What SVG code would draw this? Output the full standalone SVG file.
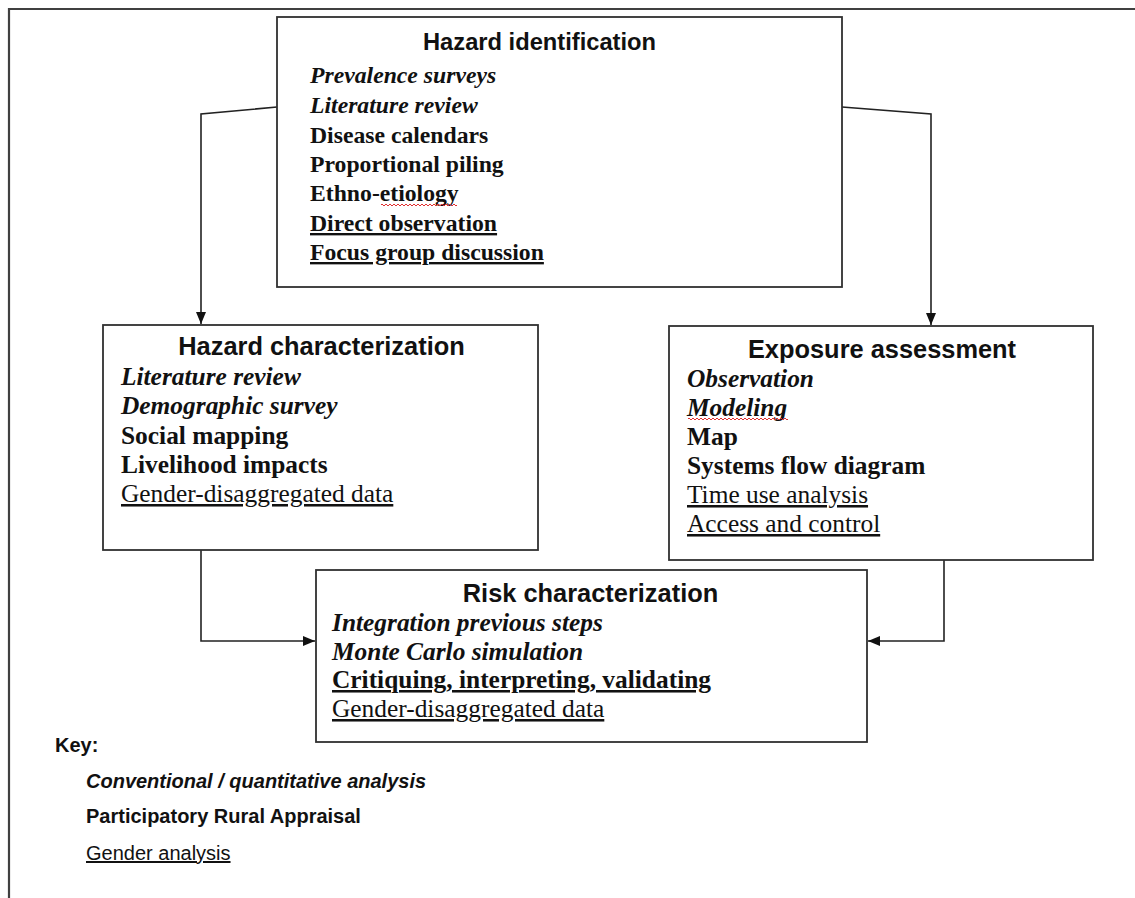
<svg xmlns="http://www.w3.org/2000/svg" width="1135" height="898" viewBox="0 0 1135 898">
<style>
.box{fill:#fff;stroke:#303030;stroke-width:1.8}
.frame{fill:none;stroke:#404040;stroke-width:2.2}
.conn{fill:none;stroke:#222;stroke-width:1.6}
.title{font-family:"Liberation Sans",Arial,sans-serif;font-weight:bold;fill:#111;text-anchor:middle}
.item{font-family:"Liberation Serif","Times New Roman",serif;fill:#111}
.b{font-weight:bold}
.i{font-style:italic}
.u{text-decoration:underline}
.key{font-family:"Liberation Sans",Arial,sans-serif;fill:#111;font-size:20px}
.sq{fill:none;stroke:#e03030;stroke-width:1}
</style>
<defs>
<marker id="arr" viewBox="0 0 12 10" refX="12" refY="5" markerWidth="12" markerHeight="10" markerUnits="userSpaceOnUse" orient="auto">
<path d="M0,0 L12,5 L0,10 Z" fill="#111"/>
</marker>
</defs>
<rect width="1135" height="898" fill="#fff"/>
<path class="frame" d="M9,898 V9 H1135"/>

<g id="connectors">
<path class="conn" d="M277,107 L201,114 V324" marker-end="url(#arr)"/>
<path class="conn" d="M842,107 L931,114 V325" marker-end="url(#arr)"/>
<path class="conn" d="M201,550 V641 H315" marker-end="url(#arr)"/>
<path class="conn" d="M944,560 V641 H868" marker-end="url(#arr)"/>
</g>

<g id="hazard-identification">
<rect class="box" x="277" y="17" width="565" height="270"/>
<text class="title" x="539.5" y="50" font-size="23.7">Hazard identification</text>
<g class="item" font-size="23.7">
<text class="b i" x="310" y="83">Prevalence surveys</text>
<text class="b i" x="310" y="113">Literature review</text>
<text class="b" x="310" y="143">Disease calendars</text>
<text class="b" x="310" y="172">Proportional piling</text>
<text class="b" x="310" y="201">Ethno-etiology</text>
<text class="b u" x="310" y="231">Direct observation</text>
<text class="b u" x="310" y="260">Focus group discussion</text>
</g>
<path class="sq" d="M381,205 q1,-2 2,0 t2,0 t2,0 t2,0 t2,0 t2,0 t2,0 t2,0 t2,0 t2,0 t2,0 t2,0 t2,0 t2,0 t2,0 t2,0 t2,0 t2,0 t2,0 t2,0 t2,0 t2,0 t2,0 t2,0 t2,0 t2,0 t2,0 t2,0 t2,0 t2,0 t2,0 t2,0 t2,0 t2,0 t2,0 t2,0 t2,0 t2,0"/>
</g>

<g id="hazard-characterization">
<rect class="box" x="103" y="325" width="435" height="225"/>
<text class="title" x="321.5" y="355" font-size="25.4">Hazard characterization</text>
<g class="item" font-size="25.4">
<text class="b i" x="121" y="385">Literature review</text>
<text class="b i" x="121" y="414">Demographic survey</text>
<text class="b" x="121" y="443.5">Social mapping</text>
<text class="b" x="121" y="473">Livelihood impacts</text>
<text class="u" x="121" y="502">Gender-disaggregated data</text>
</g>
</g>

<g id="exposure-assessment">
<rect class="box" x="669" y="326" width="424" height="234"/>
<text class="title" x="882" y="358" font-size="25.4">Exposure assessment</text>
<g class="item" font-size="25.4">
<text class="b i" x="687" y="387">Observation</text>
<text class="b i" x="687" y="416">Modeling</text>
<text class="b" x="687" y="445">Map</text>
<text class="b" x="687" y="474">Systems flow diagram</text>
<text class="u" x="687" y="503">Time use analysis</text>
<text class="u" x="687" y="532">Access and control</text>
</g>
<path class="sq" d="M688,419 q1,-2 2,0 t2,0 t2,0 t2,0 t2,0 t2,0 t2,0 t2,0 t2,0 t2,0 t2,0 t2,0 t2,0 t2,0 t2,0 t2,0 t2,0 t2,0 t2,0 t2,0 t2,0 t2,0 t2,0 t2,0 t2,0 t2,0 t2,0 t2,0 t2,0 t2,0 t2,0 t2,0 t2,0 t2,0 t2,0 t2,0 t2,0 t2,0 t2,0 t2,0 t2,0 t2,0 t2,0 t2,0 t2,0 t2,0 t2,0 t2,0 t2,0 t2,0"/>
</g>

<g id="risk-characterization">
<rect class="box" x="316" y="570" width="551" height="172"/>
<text class="title" x="590.5" y="602" font-size="25.4">Risk characterization</text>
<g class="item" font-size="25.4">
<text class="b i" x="332" y="631">Integration previous steps</text>
<text class="b i" x="332" y="659.5">Monte Carlo simulation</text>
<text class="b u" x="332" y="688">Critiquing, interpreting, validating</text>
<text class="u" x="332" y="717">Gender-disaggregated data</text>
</g>
</g>

<g id="key">
<text class="key" font-weight="bold" x="55" y="752">Key:</text>
<text class="key" font-weight="bold" font-style="italic" x="86" y="788">Conventional / quantitative analysis</text>
<text class="key" font-weight="bold" x="86" y="823">Participatory Rural Appraisal</text>
<text class="key" text-decoration="underline" x="86" y="860">Gender analysis</text>
</g>
</svg>
